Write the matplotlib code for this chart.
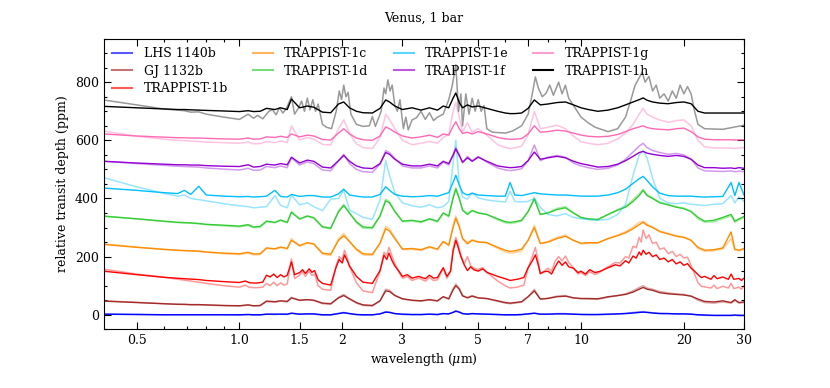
import matplotlib
matplotlib.use("Agg")
import matplotlib.pyplot as plt
from matplotlib.lines import Line2D
from matplotlib.ticker import FixedLocator, FixedFormatter, NullFormatter

plt.rcParams['font.family'] = ['DejaVu Serif']
plt.rcParams['mathtext.fontset'] = 'dejavuserif'

# wavelength grid (micron)
wavelength = [0.40, 0.5, 0.6, 0.66, 0.69, 0.72, 0.76, 0.8, 0.9, 1.0,
              1.06, 1.1, 1.15, 1.2, 1.27, 1.32, 1.38, 1.42, 1.5, 1.58,
              1.65, 1.75, 1.85, 1.95, 2.02, 2.1, 2.2, 2.3, 2.45, 2.58,
              2.68, 2.75, 2.85, 3.0, 3.2, 3.4, 3.6, 3.8, 3.95, 4.1,
              4.22, 4.3, 4.4, 4.5, 4.65, 4.8, 5.0, 5.3, 5.7, 6.0,
              6.2, 6.4, 6.7, 7.0, 7.3, 7.6, 8.0, 8.5, 9.0, 9.5,
              10.0, 10.5, 11.2, 12.0, 12.8, 13.5, 14.2, 14.8, 15.2, 15.6,
              16.2, 17.0, 18.0, 19.0, 20.0, 21.0, 22.0, 23.0, 24.5, 26.0,
              27.5, 28.2, 29.0, 30.0]

lhs1140b_a = [2, 1, 0, 0, 0, 0, 0, 0, 0, 0,
              1, 0, 0, 2, 2, 2, 2, 5, 2, 3,
              3, 0, 0, 4, 7, 4, 1, 0, 0, 3,
              9, 8, 4, 2, 1, 1, 2, 1, 4, 3,
              8, 12, 9, 4, 2, 4, 3, 2, 1, 0,
              0, 0, 1, 3, 5, 2, 2, 3, 3, 2,
              1, 1, 1, 2, 3, 4, 6, 8, 9, 8,
              6, 4, 4, 3, 3, 2, 0, -1, -2, -2,
              -2, -1, -2, -2]
lhs1140b_b = [2, 1, 0, 0, 0, 0, 0, 0, 0, -1,
              0, -1, -1, 2, 1, 2, 1, 6, 2, 3,
              2, -1, -1, 5, 8, 4, 0, -1, -1, 3,
              11, 9, 4, 1, 0, 0, 2, 0, 4, 3,
              9, 14, 10, 4, 3, 4, 3, 2, 0, -1,
              -1, -1, 0, 3, 6, 2, 2, 4, 4, 2,
              1, 0, 0, 1, 3, 5, 8, 10, 11, 9,
              7, 5, 4, 3, 3, 2, -1, -2, -3, -3,
              -3, -2, -3, -3]

gj1132b_a = [47, 42, 38, 36, 36, 35, 35, 34, 32, 31,
             34, 31, 32, 47, 45, 48, 46, 58, 50, 52,
             50, 40, 38, 58, 66, 55, 42, 34, 32, 48,
             82, 80, 66, 55, 50, 48, 52, 48, 62, 55,
             85, 100, 88, 65, 58, 64, 58, 56, 48, 42,
             40, 42, 45, 62, 82, 54, 56, 62, 64, 58,
             56, 56, 55, 62, 66, 70, 78, 88, 94, 88,
             84, 76, 72, 70, 68, 64, 54, 46, 44, 48,
             42, 52, 42, 44]
gj1132b_b = [48, 43, 38, 36, 35, 34, 34, 33, 31, 30,
             33, 30, 31, 45, 43, 47, 44, 60, 49, 52,
             49, 38, 36, 60, 70, 54, 40, 32, 30, 48,
             88, 84, 68, 54, 49, 47, 51, 47, 62, 54,
             90, 106, 92, 66, 60, 66, 58, 55, 46, 40,
             38, 40, 43, 62, 88, 54, 57, 64, 66, 58,
             55, 54, 53, 60, 66, 72, 82, 94, 100, 92,
             88, 80, 75, 72, 70, 64, 50, 42, 40, 44,
             40, 48, 40, 42]

# TRAPPIST-1b on its own, finer wavelength list
wavelength_1b = [0.40, 0.5, 0.6, 0.69, 0.76, 0.8, 0.9, 1.0, 1.04, 1.07,
                 1.12, 1.17, 1.2, 1.23, 1.26, 1.29, 1.32, 1.35, 1.38, 1.42,
                 1.45, 1.5, 1.53, 1.56, 1.6, 1.63, 1.66, 1.7, 1.75, 1.85,
                 1.92, 1.96, 2.0, 2.03, 2.07, 2.1, 2.2, 2.3, 2.45, 2.58,
                 2.65, 2.7, 2.74, 2.8, 2.85, 2.95, 3.0, 3.1, 3.2, 3.35,
                 3.5, 3.6, 3.7, 3.8, 3.95, 4.05, 4.15, 4.22, 4.3, 4.36,
                 4.45, 4.55, 4.65, 4.75, 4.85, 5.0, 5.15, 5.3, 5.7, 6.0,
                 6.2, 6.5, 6.8, 7.0, 7.2, 7.35, 7.5, 7.6, 7.8, 8.0,
                 8.2, 8.4, 8.6, 8.8, 9.0, 9.2, 9.5, 9.8, 10.0, 10.3,
                 10.6, 11.0, 11.4, 11.8, 12.2, 12.6, 13.0, 13.5, 13.8, 14.2,
                 14.5, 14.8, 15.0, 15.2, 15.5, 15.8, 16.2, 16.6, 17.0, 17.5,
                 18.0, 18.5, 19.0, 19.5, 20.0, 20.5, 21.0, 21.5, 22.0, 22.5,
                 23.0, 24.0, 24.5, 25.0, 26.0, 27.0, 27.5, 28.0, 29.0, 29.5,
                 30.0]
trappist1b_a = [150, 138, 129, 124, 121, 118, 114, 111, 116, 110,
                109, 112, 136, 130, 140, 128, 138, 130, 136, 182,
                138, 145, 155, 142, 158, 146, 152, 120, 108, 102,
                165, 190, 178, 206, 185, 168, 132, 112, 108, 152,
                205, 190, 212, 185, 168, 145, 132, 138, 126, 132,
                124, 136, 126, 128, 162, 132, 150, 218, 256, 235,
                200, 172, 152, 165, 155, 150, 158, 146, 132, 124,
                118, 122, 128, 162, 185, 206, 170, 142, 148, 150,
                140, 165, 185, 170, 182, 165, 160, 145, 150, 140,
                155, 145, 150, 158, 165, 172, 168, 186, 178, 202,
                195, 216, 205, 222, 208, 215, 200, 206, 190, 195,
                182, 190, 175, 182, 170, 176, 160, 150, 138, 128,
                132, 122, 135, 124, 130, 122, 140, 122, 125, 118,
                126]
trappist1b_b = [157, 140, 129, 119, 112, 108, 100, 95, 102, 94,
                93, 95, 108, 100, 112, 100, 110, 102, 106, 192,
                125, 136, 148, 132, 150, 135, 140, 100, 88, 84,
                170, 200, 190, 222, 195, 166, 110, 82, 76, 150,
                215, 205, 232, 200, 176, 140, 126, 132, 118, 126,
                116, 128, 118, 120, 160, 125, 150, 226, 266, 245,
                205, 175, 200, 170, 160, 156, 162, 146, 116, 100,
                92, 95, 102, 160, 200, 232, 180, 140, 150, 160,
                150, 185, 200, 185, 202, 180, 162, 140, 145, 135,
                148, 138, 148, 160, 170, 180, 178, 200, 195, 236,
                230, 266, 250, 292, 262, 275, 245, 250, 225, 230,
                210, 218, 200, 208, 195, 198, 170, 140, 110, 98,
                96, 92, 102, 90, 98, 92, 108, 90, 95, 88,
                100]

trappist1c_a = [242, 232, 225, 222, 221, 220, 219, 216, 212, 210,
                215, 209, 210, 230, 227, 233, 228, 256, 238, 248,
                244, 212, 208, 256, 272, 252, 226, 210, 208, 246,
                296, 288, 262, 226, 228, 224, 234, 226, 252, 240,
                300, 332, 302, 262, 244, 256, 250, 248, 232, 222,
                218, 220, 226, 256, 300, 245, 250, 262, 270, 256,
                246, 248, 248, 262, 272, 282, 296, 310, 318, 308,
                300, 286, 278, 270, 266, 256, 232, 222, 224, 230,
                285, 226, 222, 228]
trappist1c_b = [244, 233, 225, 221, 220, 219, 218, 215, 210, 207,
                212, 206, 207, 228, 225, 231, 226, 262, 236, 246,
                242, 208, 204, 262, 280, 252, 222, 206, 204, 246,
                305, 296, 266, 224, 225, 221, 232, 223, 252, 236,
                305, 340, 308, 262, 250, 258, 252, 248, 228, 216,
                212, 214, 220, 256, 308, 245, 252, 266, 274, 256,
                244, 245, 246, 262, 274, 286, 302, 318, 322, 312,
                302, 288, 280, 272, 268, 256, 228, 218, 220, 226,
                262, 222, 220, 224]

trappist1d_a = [339, 330, 322, 318, 317, 316, 314, 311, 308, 305,
                310, 302, 304, 322, 318, 326, 318, 352, 330, 340,
                334, 303, 298, 354, 376, 350, 320, 302, 300, 340,
                392, 385, 355, 322, 325, 320, 330, 322, 350, 340,
                400, 432, 400, 360, 345, 358, 350, 345, 330, 320,
                318, 320, 325, 355, 398, 345, 350, 362, 368, 350,
                335, 330, 328, 345, 360, 370, 390, 410, 428, 410,
                400, 385, 378, 370, 365, 355, 335, 322, 325, 335,
                345, 322, 330, 338]
trappist1d_b = [340, 330, 321, 317, 316, 315, 313, 310, 306, 302,
                307, 299, 301, 320, 316, 324, 316, 356, 328, 338,
                332, 300, 295, 358, 380, 350, 316, 298, 296, 340,
                398, 390, 358, 320, 322, 317, 328, 319, 350, 336,
                405, 438, 405, 360, 350, 360, 352, 345, 326, 316,
                314, 316, 322, 355, 404, 345, 352, 366, 372, 350,
                333, 328, 326, 345, 362, 374, 396, 416, 432, 414,
                402, 388, 380, 372, 367, 356, 330, 318, 320, 330,
                340, 318, 326, 334]

trappist1e_a = [436, 428, 420, 417, 428, 414, 442, 412, 408, 406,
                407, 405, 406, 408, 428, 407, 405, 414, 407, 410,
                410, 405, 405, 416, 432, 412, 408, 405, 405, 414,
                440, 428, 414, 408, 406, 407, 410, 408, 414, 420,
                455, 480, 446, 420, 412, 418, 412, 410, 408, 408,
                455, 412, 410, 415, 420, 416, 414, 412, 412, 410,
                408, 408, 408, 412, 420, 432, 452, 468, 476, 462,
                440, 418, 410, 408, 408, 408, 406, 405, 406, 407,
                455, 410, 455, 412]
trappist1e_b = [472, 440, 418, 408, 412, 400, 396, 392, 382, 375,
                372, 368, 370, 372, 410, 376, 368, 412, 378, 385,
                372, 358, 398, 400, 428, 360, 348, 335, 328, 395,
                530, 480, 420, 385, 375, 370, 378, 368, 372, 390,
                520, 600, 450, 405, 398, 420, 402, 395, 390, 388,
                425, 390, 388, 390, 400, 370, 345, 340, 348, 335,
                330, 328, 325, 328, 345, 380, 480, 550, 565, 540,
                470, 400, 385, 382, 385, 380, 378, 376, 380, 382,
                410, 385, 405, 390]

trappist1f_a = [528, 522, 518, 516, 516, 515, 515, 513, 511, 510,
                516, 508, 510, 518, 515, 520, 516, 542, 522, 532,
                528, 508, 505, 530, 548, 528, 512, 505, 503, 520,
                558, 552, 535, 518, 512, 512, 518, 512, 528, 520,
                548, 570, 548, 525, 540, 528, 542, 528, 512, 508,
                506, 507, 510, 530, 560, 535, 540, 545, 540, 528,
                520, 515, 508, 510, 518, 530, 545, 558, 562, 556,
                552, 548, 545, 548, 545, 535, 515, 506, 506, 504,
                505, 503, 506, 504]
trappist1f_b = [528, 520, 514, 511, 510, 509, 508, 505, 501, 498,
                504, 497, 498, 510, 506, 512, 506, 540, 515, 526,
                520, 498, 495, 530, 552, 520, 500, 492, 490, 518,
                565, 558, 538, 512, 505, 505, 512, 505, 525, 515,
                552, 575, 552, 522, 545, 530, 545, 525, 505, 498,
                496, 498, 502, 530, 584, 530, 542, 548, 542, 522,
                512, 506, 500, 504, 515, 535, 560, 580, 590, 575,
                565, 558, 552, 555, 550, 535, 505, 495, 494, 493,
                495, 492, 494, 492]

trappist1g_a = [622, 615, 611, 609, 609, 608, 608, 607, 605, 604,
                608, 604, 605, 612, 610, 614, 610, 622, 612, 618,
                615, 603, 601, 625, 640, 622, 608, 602, 600, 615,
                646, 640, 628, 615, 608, 612, 618, 610, 622, 618,
                648, 664, 640, 624, 628, 622, 630, 622, 610, 605,
                604, 604, 606, 622, 650, 628, 630, 635, 632, 625,
                618, 614, 612, 614, 620, 630, 640, 646, 650, 644,
                640, 638, 636, 640, 642, 630, 612, 604, 602, 602,
                602, 601, 602, 602]
trappist1g_b = [632, 614, 604, 600, 599, 597, 596, 594, 592, 590,
                594, 588, 589, 596, 592, 598, 592, 650, 602, 610,
                604, 586, 584, 640, 670, 625, 588, 575, 572, 610,
                690, 672, 640, 600, 585, 590, 596, 590, 610, 620,
                700, 730, 680, 630, 660, 628, 640, 618, 585, 575,
                572, 574, 580, 620, 700, 640, 645, 652, 640, 615,
                595, 590, 585, 590, 605, 625, 655, 690, 710, 690,
                680, 670, 662, 668, 670, 650, 600, 578, 574, 574,
                573, 572, 574, 575]

trappist1h_a = [717, 712, 708, 706, 706, 705, 704, 703, 701, 699,
                702, 699, 700, 710, 706, 712, 706, 742, 712, 718,
                714, 697, 695, 725, 732, 712, 700, 695, 694, 710,
                739, 732, 718, 706, 712, 704, 712, 704, 718, 712,
                745, 763, 730, 712, 722, 715, 718, 710, 700, 694,
                692, 692, 694, 710, 739, 722, 725, 730, 732, 722,
                712, 706, 700, 704, 712, 722, 732, 740, 746, 738,
                732, 728, 726, 730, 732, 726, 700, 694, 694, 694,
                694, 694, 694, 694]

# TRAPPIST-1h second model (grey) on its own, finer wavelength list
wavelength_1h_b = [0.40, 0.5, 0.6, 0.69, 0.72, 0.76, 0.8, 0.9, 1.0, 1.06,
                   1.1, 1.13, 1.17, 1.22, 1.25, 1.28, 1.31, 1.34, 1.37, 1.42,
                   1.45, 1.49, 1.52, 1.55, 1.58, 1.61, 1.64, 1.67, 1.70, 1.75,
                   1.80, 1.86, 1.92, 1.96, 1.99, 2.02, 2.05, 2.08, 2.12, 2.2,
                   2.3, 2.4, 2.45, 2.5, 2.6, 2.65, 2.68, 2.72, 2.76, 2.8,
                   2.85, 2.9, 2.95, 3.02, 3.07, 3.12, 3.2, 3.3, 3.4, 3.5,
                   3.6, 3.7, 3.8, 3.95, 4.1, 4.2, 4.3, 4.38, 4.45, 4.5,
                   4.6, 4.7, 4.8, 4.9, 5.0, 5.1, 5.2, 5.3, 5.5, 6.0,
                   6.3, 6.7, 7.0, 7.2, 7.35, 7.5, 7.7, 7.9, 8.1, 8.3,
                   8.6, 8.8, 9.0, 9.2, 9.5, 10.0, 10.5, 11.0, 12.0, 12.8,
                   13.5, 14.0, 14.4, 14.8, 15.1, 15.4, 15.8, 16.2, 16.6, 17.0,
                   17.5, 18.0, 18.5, 19.0, 19.5, 20.0, 20.5, 21.0, 21.5, 22.0,
                   23.0, 26.0, 30.0]
trappist1h_b = [739, 722, 708, 702, 697, 698, 690, 680, 672, 690,
                676, 686, 674, 700, 705, 688, 712, 694, 708, 750,
                690, 712, 735, 700, 745, 705, 740, 700, 725, 655,
                645, 640, 700, 770, 740, 790, 750, 765, 690, 655,
                648, 650, 682, 648, 700, 780, 760, 808, 770, 790,
                720, 700, 740, 640, 680, 636, 670, 678, 700, 672,
                695, 668, 680, 690, 740, 790, 860, 700, 760, 650,
                760, 690, 745, 700, 740, 700, 720, 640, 628, 625,
                632, 650, 690, 760, 818, 780, 750, 762, 790, 755,
                800, 760, 790, 745, 720, 680, 660, 645, 630, 640,
                680, 740, 790, 815, 835, 800, 820, 770, 790, 745,
                760, 735, 770, 745, 790, 760, 785, 760, 700, 655,
                640, 638, 652]

planet_names = ['LHS 1140b', 'GJ 1132b', 'TRAPPIST-1b', 'TRAPPIST-1c',
                'TRAPPIST-1d', 'TRAPPIST-1e', 'TRAPPIST-1f', 'TRAPPIST-1g',
                'TRAPPIST-1h']
planet_colors = ['#0000ff', '#a52a2a', '#ff0000', '#ff8c00', '#32cd32',
                 '#00bfff', '#9400d3', '#ff69b4', '#000000']
series_a = [lhs1140b_a, gj1132b_a, trappist1b_a, trappist1c_a, trappist1d_a,
            trappist1e_a, trappist1f_a, trappist1g_a, trappist1h_a]
series_b = [lhs1140b_b, gj1132b_b, trappist1b_b, trappist1c_b, trappist1d_b,
            trappist1e_b, trappist1f_b, trappist1g_b, trappist1h_b]
wl_a = [wavelength, wavelength, wavelength_1b] + [wavelength] * 6
wl_b = [wavelength, wavelength, wavelength_1b] + [wavelength] * 5 + [wavelength_1h_b]

xtick_major = [0.5, 1.0, 1.5, 2, 3, 5, 7, 10, 20, 30]
xtick_labels = ['0.5', '1.0', '1.5', '2', '3', '5', '7', '10', '20', '30']
xtick_minor = [0.6, 0.7, 0.8, 0.9, 4, 6, 8, 9]

fig = plt.figure(figsize=(8.3, 3.88), dpi=100)
ax = fig.add_axes([0.1247, 0.1513, 0.7717, 0.7492])

for col, a, b, wa, wb in zip(planet_colors, series_a, series_b, wl_a, wl_b):
    ax.plot(wb, b, color=col, alpha=0.4, lw=1.1)
    ax.plot(wa, a, color=col, lw=1.0)

ax.set_xscale('log')
ax.set_xlim(0.4, 30)
ax.set_ylim(-50, 950)
ax.xaxis.set_major_locator(FixedLocator(xtick_major))
ax.xaxis.set_major_formatter(FixedFormatter(xtick_labels))
ax.xaxis.set_minor_locator(FixedLocator(xtick_minor))
ax.xaxis.set_minor_formatter(NullFormatter())
ax.set_yticks([0, 200, 400, 600, 800])
ax.set_yticks(range(-50, 951, 50), minor=True)
ax.tick_params(which='both', direction='in', top=True, right=True, labelsize=9)
ax.tick_params(which='major', length=5, width=0.8)
ax.tick_params(which='minor', length=2.5, width=0.8)
ax.set_xlabel(r'wavelength ($\mu$m)', fontsize=9, labelpad=3)
ax.set_ylabel('relative transit depth (ppm)', fontsize=9)
ax.set_title('Venus, 1 bar', fontsize=9, pad=12)

handles = [Line2D([], [], color=c, lw=1.5, alpha=(1.0 if c == '#000000' else 0.65))
           for c in planet_colors]
ax.legend(handles, planet_names, loc='upper left', ncol=4, frameon=False,
          fontsize=9, handlelength=1.6, columnspacing=2.0, labelspacing=0.35,
          borderaxespad=0.3, handletextpad=0.9)

fig.savefig('out.png', dpi=100)
